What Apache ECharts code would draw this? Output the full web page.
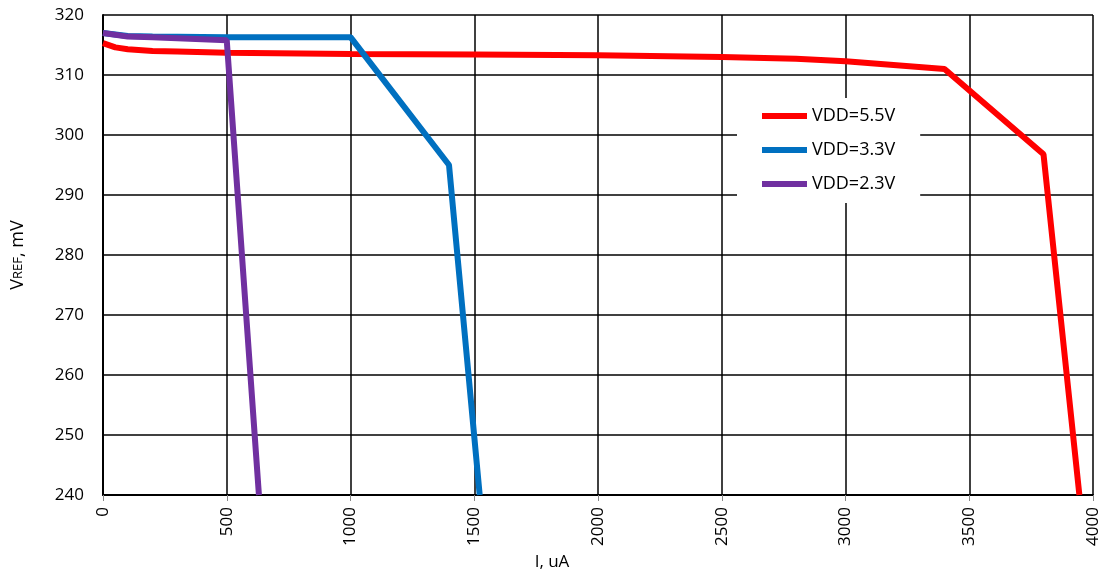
<!DOCTYPE html>
<html><head><meta charset="utf-8">
<script src="https://cdn.jsdelivr.net/npm/echarts@6/dist/echarts.min.js"></script>
<style>html,body{margin:0;padding:0;background:#fff}#c{width:1105px;height:576px}</style>
</head><body><div id="c"></div>
<script>
const xTicks = [0,500,1000,1500,2000,2500,3000,3500,4000];
const yTicks = [240,250,260,270,280,290,300,310,320];
const seriesNames = ['VDD=5.5V','VDD=3.3V','VDD=2.3V'];
const vdd55I = [0,50,100,200,300,500,1000,1500,2000,2500,2800,3000,3400,3800,3945];
const vdd55V = [315.3,314.6,314.3,314.0,313.9,313.7,313.5,313.4,313.3,313.0,312.7,312.3,311.0,296.8,240];
const vdd33I = [0,100,200,500,1000,1398,1522];
const vdd33V = [317.0,316.5,316.4,316.3,316.3,295.0,240];
const vdd23I = [0,100,200,500,630];
const vdd23V = [317.0,316.4,316.3,315.8,240];
const colors = ['#FF0000','#0070C0','#7030A0'];
const F = 'Open Sans, Noto Sans, sans-serif';
function pairs(a,b){return a.map((x,i)=>[x,b[i]]);}
const chart = echarts.init(document.getElementById('c'));
chart.setOption({
  animation:false,
  backgroundColor:'#fff',
  grid:{left:103,top:15,right:12,bottom:81,containLabel:false},
  xAxis:{type:'value',min:0,max:4000,interval:500,
    name:'I, uA',nameLocation:'middle',nameGap:58,
    nameTextStyle:{fontFamily:F,fontSize:17,color:'#000',padding:[0,92,0,0]},
    axisLine:{lineStyle:{color:'#000',width:2}},
    axisTick:{show:true,length:6,lineStyle:{color:'#888'}},
    axisLabel:{rotate:90,margin:12,fontFamily:F,fontSize:17,color:'#000',formatter:v=>String(v)},
    splitLine:{show:true,lineStyle:{color:'#000',width:1.5}}},
  yAxis:{type:'value',min:240,max:320,interval:10,
    name:'V{s|REF}, mV',nameLocation:'middle',nameGap:76,nameRotate:90,
    nameTextStyle:{fontFamily:F,fontSize:18,color:'#000',rich:{s:{fontFamily:F,fontSize:13,color:'#000'}}},
    axisLine:{show:true,lineStyle:{color:'#000',width:2}},
    axisTick:{show:false},
    axisLabel:{margin:19,fontFamily:F,fontSize:17,color:'#000',formatter:v=>String(v)},
    splitLine:{show:true,lineStyle:{color:'#000',width:1.5}}},
  legend:{orient:'vertical',left:737,top:98,
    backgroundColor:'#fff',padding:[9,25,10,25],
    itemWidth:45,itemHeight:6,itemGap:16,icon:'rect',
    textStyle:{fontFamily:F,fontSize:18,color:'#000'},
    data:seriesNames},
  series:[
    {name:seriesNames[0],type:'line',data:pairs(vdd55I,vdd55V),showSymbol:false,symbol:'none',lineStyle:{width:6,color:colors[0]},itemStyle:{color:colors[0]},z:3},
    {name:seriesNames[1],type:'line',data:pairs(vdd33I,vdd33V),showSymbol:false,symbol:'none',lineStyle:{width:6,color:colors[1]},itemStyle:{color:colors[1]},z:4},
    {name:seriesNames[2],type:'line',data:pairs(vdd23I,vdd23V),showSymbol:false,symbol:'none',lineStyle:{width:6,color:colors[2]},itemStyle:{color:colors[2]},z:5}
  ]
});
</script></body></html>
